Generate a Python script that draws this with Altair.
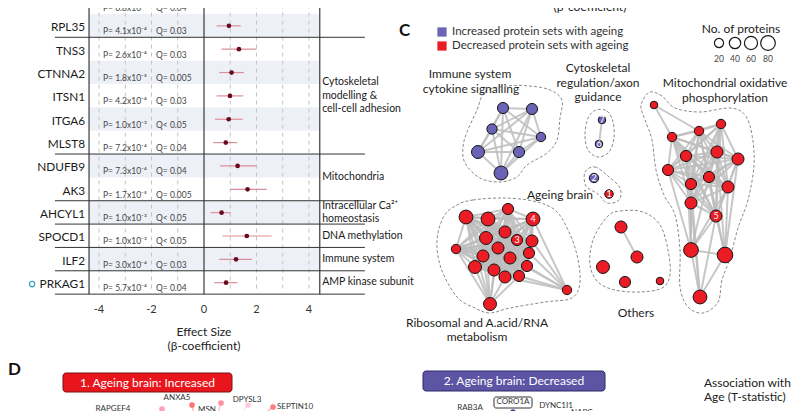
import altair as alt
import pandas as pd
from itertools import combinations

FONT = "Lato"

# ---------------- Panel B: forest plot ----------------
genes = ["RPLP0", "RPL35", "TNS3", "CTNNA2", "ITSN1", "ITGA6", "MLST8",
         "NDUFB9", "AK3", "AHCYL1", "SPOCD1", "ILF2", "PRKAG1"]
beta = [1.08, 0.95, 1.33, 1.05, 0.99, 0.94, 0.83, 1.28, 1.66, 0.67, 1.63, 1.22, 0.84]
ci_low = [0.48, 0.48, 0.67, 0.58, 0.48, 0.42, 0.35, 0.61, 0.99, 0.25, 0.71, 0.58, 0.39]
ci_high = [1.69, 1.40, 2.00, 1.52, 1.50, 1.47, 1.27, 2.00, 2.39, 1.02, 2.58, 1.82, 1.28]
p_text = ["P= 6.8x10⁻⁴", "P= 4.1x10⁻⁴", "P= 2.6x10⁻⁴", "P= 1.8x10⁻⁵", "P= 4.2x10⁻⁴",
          "P= 1.0x10⁻³", "P= 7.2x10⁻⁴", "P= 7.3x10⁻⁴", "P= 1.7x10⁻⁵", "P= 1.0x10⁻³",
          "P= 1.0x10⁻³", "P= 3.0x10⁻⁴", "P= 5.7x10⁻⁴"]
q_text = ["Q= 0.04", "Q= 0.03", "Q= 0.03", "Q= 0.005", "Q= 0.03", "Q< 0.05", "Q= 0.04",
          "Q= 0.04", "Q= 0.005", "Q< 0.05", "Q< 0.05", "Q= 0.03", "Q= 0.04"]
gene_group = ["ribo", "ribo", "cyto", "cyto", "cyto", "cyto", "cyto",
              "mito", "mito", "ca", "dna", "imm", "amp"]
group_keys = ["ribo", "cyto", "mito", "ca", "dna", "imm", "amp"]
group_text = ["Ribosomal\nprotein", "Cytoskeletal\nmodelling &\ncell-cell adhesion",
              "Mitochondria", "Intracellular Ca²⁺\nhomeostasis", "DNA methylation",
              "Immune system", "AMP kinase subunit"]
tick_vals = [-4, -2, 0, 2, 4]
tick_labels = ["-4", "-2", "0", "2", "4"]
grid_vals = [-4, -3, -2, -1, 1, 2, 3, 4]
highlighted_gene = "PRKAG1"

ROW_PX = 23.35          # pixel height of one forest row (used to convert line offsets)
CAT_LH = 13.5           # line height of group labels
FRAME_L, FRAME_R = -4.38, 4.41
SEP_L, SEP_R = -5.68, 6.13
BX = alt.Scale(domain=[-7.467, 22.4], nice=False, zero=False)
BY = alt.Scale(domain=[0.1756, 17.435], nice=False, zero=False, reverse=True)


def fx(f):
    return alt.X(f"{f}:Q", scale=BX, axis=None)


def fy(f):
    return alt.Y(f"{f}:Q", scale=BY, axis=None)


n_g = len(genes)
fdf = pd.DataFrame({"gene": genes, "row": list(range(n_g)), "beta": beta,
                    "lo": ci_low, "hi": ci_high, "p": p_text, "q": q_text,
                    "group": gene_group})
fdf["pt_row"] = fdf["row"] - 0.06
fdf["txt_row"] = fdf["row"] + 0.17
fdf["top"] = fdf["row"] - 0.57
fdf["bot"] = fdf["row"] + 0.43
fdf["fl"] = FRAME_L
fdf["fr"] = FRAME_R
fdf["gx"] = -4.53
fdf["px"] = -3.85
fdf["qx"] = -1.83

shade_df = fdf[fdf["row"] % 2 == 1]
shade = alt.Chart(shade_df).mark_rect(color="#eef0f8").encode(
    x=fx("fl"), x2="fr:Q", y=fy("top"), y2="bot:Q")

grid_df = pd.DataFrame({"x": grid_vals, "y1": -1.0, "y2": 12.25})
grid = alt.Chart(grid_df).mark_rule(color="#c4c4c4", strokeDash=[4, 4], strokeWidth=1).encode(
    x=fx("x"), y=fy("y1"), y2="y2:Q")

frame_df = pd.DataFrame({"x": [FRAME_L, 0.0, FRAME_R], "y1": -1.0, "y2": 12.43})
frame = alt.Chart(frame_df).mark_rule(color="#3a3a3a", strokeWidth=1.2).encode(
    x=fx("x"), y=fy("y1"), y2="y2:Q")

sep_rows = [i + 0.43 for i in range(n_g) if i == n_g - 1 or gene_group[i] != gene_group[i + 1]]
sep_df = pd.DataFrame({"y": sep_rows, "x1": SEP_L, "x2": SEP_R})
seps = alt.Chart(sep_df).mark_rule(color="#333333", strokeWidth=1).encode(
    x=fx("x1"), x2="x2:Q", y=fy("y"))

ci = alt.Chart(fdf).mark_rule(color="#dc8f9a", strokeWidth=1.2).encode(
    x=fx("lo"), x2="hi:Q", y=fy("pt_row"))
pts = alt.Chart(fdf).mark_circle(color="#6a0a1e", size=22, opacity=1).encode(
    x=fx("beta"), y=fy("pt_row"))

gene_txt = alt.Chart(fdf).mark_text(align="right", font=FONT, fontSize=11.8, color="#1a1a1a").encode(
    x=fx("gx"), y=fy("row"), text="gene:N")
p_txt = alt.Chart(fdf).mark_text(align="left", font=FONT, fontSize=8.5, color="#444444").encode(
    x=fx("px"), y=fy("txt_row"), text="p:N")
q_txt = alt.Chart(fdf).mark_text(align="left", font=FONT, fontSize=8.5, color="#444444").encode(
    x=fx("qx"), y=fy("txt_row"), text="q:N")

cat_rows = []
for k, t in zip(group_keys, group_text):
    rr = [i for i, g in enumerate(gene_group) if g == k]
    n_lines = t.count("\n") + 1
    centre = sum(rr) / len(rr) - 0.07
    cat_rows.append(centre - (n_lines - 1) / 2 * CAT_LH / ROW_PX)
cat_rows[0] = -0.62  # ribosomal group continues above the crop
cat_df = pd.DataFrame({"t": group_text, "row": cat_rows, "x": 4.5})
cat_txt = alt.Chart(cat_df).mark_text(align="left", font=FONT, fontSize=10.5, color="#1a1a1a",
                                      lineBreak="\n", lineHeight=CAT_LH).encode(
    x=fx("x"), y=fy("row"), text="t:N")

tick_df = pd.DataFrame({"x": tick_vals, "t": tick_labels, "row": 13.11})
ticks = alt.Chart(tick_df).mark_text(font=FONT, fontSize=11, color="#333333").encode(
    x=fx("x"), y=fy("row"), text="t:N")

title_df = pd.DataFrame({"x": [0.0], "row": [14.05], "t": ["Effect Size\n(β-coefficient)"]})
title = alt.Chart(title_df).mark_text(font=FONT, fontSize=12, color="#222222",
                                      lineBreak="\n", lineHeight=14).encode(
    x=fx("x"), y=fy("row"), text="t:N")

mk_df = pd.DataFrame({"x": [-6.55], "row": [float(genes.index(highlighted_gene))]})
marker = alt.Chart(mk_df).mark_point(shape="circle", filled=False, color="#3a9fc0",
                                     size=28, strokeWidth=1.3, opacity=1).encode(
    x=fx("x"), y=fy("row"))

forest = alt.layer(shade, grid, frame, seps, ci, pts, gene_txt, p_txt, q_txt,
                   cat_txt, ticks, title, marker)

# ---------------- Panel C: network of protein sets ----------------
node_id = ["I0", "I1", "I2", "I3", "I4", "I5", "I6",
           "C7", "C6", "A2", "A1",
           "M0", "M1", "M2", "M3", "M4", "M5", "M6", "M7", "M8", "M9", "M10", "M11",
           "M12", "M13", "M14", "M15",
           "R0", "R1", "R2", "R3", "R4", "R5", "R6", "R7", "R8", "R9", "R10", "R11",
           "R12", "R13", "R14", "R15", "R16", "R17", "R18", "R19",
           "O0", "O1", "O2", "O3", "O4"]
node_x = [503, 532, 492, 541, 478, 519, 501,
          602, 599, 594, 609,
          654, 672, 699, 721, 686, 717, 738, 668, 709, 691, 728, 691,
          716, 691, 725, 700,
          466, 488, 508, 533, 486, 505, 517, 532, 456, 498, 483, 510,
          529, 475, 494, 527, 505, 519, 567, 490,
          621, 637, 603, 625, 660]
node_y = [108, 109, 129, 137, 152, 152, 173,
          120, 144, 178, 194,
          105, 137, 131, 124, 156, 152, 159, 170, 177, 184, 187, 203,
          216, 250, 255, 297,
          217, 219, 209, 219, 238, 232, 240, 241, 249, 248, 256, 258,
          253, 267, 270, 266, 277, 276, 290, 304,
          227, 257, 267, 282, 281]
node_n = [38, 38, 30, 22, 58, 38, 69,
          8, 8, 22, 15,
          8, 22, 22, 22, 38, 48, 48, 38, 38, 38, 48, 48,
          48, 80, 92, 69,
          69, 69, 38, 69, 58, 48, 38, 48, 22, 48, 48, 48,
          38, 58, 48, 38, 48, 38, 22, 58,
          48, 48, 58, 38, 8]
node_dir = (["Increased"] * 10 + ["Decreased"] + ["Decreased"] * 16 +
            ["Decreased"] * 20 + ["Decreased"] * 5)
node_num = {"C7": "7", "C6": "6", "A2": "2", "A1": "1", "R3": "4", "R6": "3", "M12": "5"}

cliques = [["I0", "I1", "I2", "I3", "I4", "I5", "I6"],
           ["M1", "M2", "M3", "M4", "M5", "M6", "M7", "M8", "M9", "M10", "M11", "M12"],
           ["R0", "R1", "R2", "R3", "R4", "R5", "R6", "R7", "R8", "R9", "R10", "R11",
            "R12", "R13", "R14", "R15", "R16", "R17"]]
extra_edges = [("C7", "C6"), ("M0", "M1"), ("M0", "M2"),
               ("M13", "M7"), ("M13", "M9"), ("M13", "M11"), ("M13", "M12"), ("M13", "M4"),
               ("M13", "M8"), ("M13", "M10"), ("M13", "M14"), ("M13", "M15"),
               ("M14", "M12"), ("M14", "M10"), ("M14", "M6"), ("M14", "M5"), ("M14", "M8"),
               ("M14", "M15"), ("M15", "M11"), ("M15", "M12"), ("M15", "M9"),
               ("R18", "R3"), ("R18", "R7"), ("R18", "R12"), ("R18", "R15"), ("R18", "R17"),
               ("R18", "R16"), ("R18", "R11"),
               ("R19", "R13"), ("R19", "R14"), ("R19", "R16"), ("R19", "R10"), ("R19", "R8"),
               ("R19", "R17"), ("R19", "R9"), ("R19", "R4"), ("R19", "R0"),
               ("O0", "O1")]

hull_id = (["imm"] * 16 + ["cyt"] * 9 + ["age"] * 8 + ["rib"] * 17 + ["oth"] * 12 + ["mit"] * 24)
hull_x = [477, 485, 507, 530, 550, 562, 560, 557, 547, 527, 517, 500, 480, 465, 463, 467,
          596, 607, 613, 614, 609, 598, 588, 585, 588,
          585, 595, 608, 620, 619, 607, 598, 586,
          457, 473, 503, 533, 555, 568, 577, 580, 572, 545, 510, 490, 475, 457, 441, 437, 444,
          607, 620, 643, 660, 668, 670, 662, 640, 615, 598, 590, 593,
          643, 650, 662, 675, 700, 730, 745, 752, 754, 748, 738, 730, 722, 718, 703, 688,
          680, 680, 675, 664, 656, 652, 645, 641]
hull_y = [110, 92, 86, 86, 90, 100, 118, 140, 153, 165, 177, 182, 178, 163, 147, 132,
          110, 111, 122, 138, 152, 157, 150, 135, 118,
          172, 167, 176, 188, 200, 203, 194, 186,
          205, 200, 198, 201, 210, 230, 255, 282, 298, 302, 308, 313, 308, 297, 268, 240, 216,
          217, 211, 212, 225, 250, 275, 288, 292, 290, 282, 265, 240,
          100, 92, 96, 108, 112, 108, 115, 135, 165, 200, 228, 258, 280, 302, 313, 307,
          287, 250, 215, 195, 170, 140, 120, 108]

cluster_text = ["Immune system", "cytokine signalling", "Cytoskeletal", "regulation/axon",
                "guidance", "Mitochondrial oxidative", "phosphorylation", "Ageing brain",
                "Ribosomal and A.acid/RNA", "metabolism", "Others"]
cluster_x = [470, 471, 598, 598, 598, 725, 725, 560, 477, 477, 636]
cluster_y = [74, 89, 68, 83, 97, 83, 98, 195, 323, 337, 313]

legend_dir = ["Increased", "Decreased"]
legend_text = ["Increased protein sets with ageing", "Decreased protein sets with ageing"]
legend_y = [32, 46]
size_legend_n = [20, 40, 60, 80]
size_legend_x = [719, 735, 751, 768]

# ---------------- Panel D ----------------
box_text = ["1. Ageing brain: Increased", "2. Ageing brain: Decreased"]
box_x1 = [63, 423]
box_x2 = [232, 605]
box_y1 = [373, 371]
box_y2 = [392, 391]
d_gene = ["RAPGEF4", "SEPTIN4", "ANXA5", "MSN", "DPYSL3", "SEPTIN10", "PRDX6", "WFS1",
          "RAB3A", "CORO1A", "DYNC1I1", "NAPG", "ACTA1"]
d_lab_x = [113, 166, 177, 207, 247, 295, 238, 300, 470, 513, 556, 582, 612]
d_lab_y = [409, 415, 398, 410, 400, 407, 418, 418, 408, 402, 406, 413, 419]
d_node_x = [134, 162, 192, 221, 248, 273, 190, 288, 486, 513, 543, 572, 600]
d_node_y = [416, 409, 405, 403, 405, 407, 418, 419, 414, 412, 414, 418, 424]
d_t = [1.2, 1.5, 2.4, 1.8, 0.7, 2.2, 2.0, 1.0, -0.8, -3.0, -1.0, -0.7, -0.5]
d_hub_x = [205, 205, 205, 205, 205, 205, 205, 205, 525, 525, 525, 525, 525]
d_hub_y = [460] * 13

PX = alt.Scale(domain=[8, 792], nice=False, zero=False)
PY = alt.Scale(domain=[8, 411], nice=False, zero=False, reverse=True)
FILL = alt.Scale(domain=["Increased", "Decreased"], range=["#6a63b6", "#ec1c24"])
SIZE = alt.Scale(domain=[0, 100], range=[40, 260])
TCOL = alt.Scale(domain=[-3, 0, 3], range=["#4b3f9c", "#f4eef2", "#ee5a3a"])


def px(f):
    return alt.X(f"{f}:Q", scale=PX, axis=None)


def py(f):
    return alt.Y(f"{f}:Q", scale=PY, axis=None)


ndf = pd.DataFrame({"id": node_id, "x": node_x, "y": node_y, "n": node_n, "dir": node_dir})
ndf["num"] = [node_num.get(i, "") for i in node_id]
pos = {i: (x, y) for i, x, y in zip(node_id, node_x, node_y)}

edge_pairs = []
for cl in cliques:
    edge_pairs += list(combinations(cl, 2))
edge_pairs += extra_edges
edf = pd.DataFrame({"x": [pos[a][0] for a, b in edge_pairs], "y": [pos[a][1] for a, b in edge_pairs],
                    "x2": [pos[b][0] for a, b in edge_pairs], "y2": [pos[b][1] for a, b in edge_pairs]})

hdf = pd.DataFrame({"hull": hull_id, "x": hull_x, "y": hull_y})
hdf["i"] = hdf.groupby("hull").cumcount()

hulls = alt.Chart(hdf).mark_line(interpolate="cardinal-closed", strokeDash=[3, 2],
                                 color="#8a8a8a", strokeWidth=1).encode(
    x=px("x"), y=py("y"), detail="hull:N", order="i:Q")
edges = alt.Chart(edf).mark_rule(color="#bdbdbd", strokeWidth=2, opacity=0.85).encode(
    x=px("x"), y=py("y"), x2="x2:Q", y2="y2:Q")
nodes = alt.Chart(ndf).mark_point(shape="circle", filled=True, opacity=1, stroke="#141414",
                                  strokeWidth=1).encode(
    x=px("x"), y=py("y"),
    fill=alt.Fill("dir:N", scale=FILL, legend=None),
    size=alt.Size("n:Q", scale=SIZE, legend=None))
nums = alt.Chart(ndf[ndf["num"] != ""]).mark_text(font=FONT, fontSize=9, color="white").encode(
    x=px("x"), y=py("y"), text="num:N")

cdf = pd.DataFrame({"t": cluster_text, "x": cluster_x, "y": cluster_y})
clus = alt.Chart(cdf).mark_text(font=FONT, fontSize=12, color="#1e1e1e").encode(
    x=px("x"), y=py("y"), text="t:N")

ldf = pd.DataFrame({"dir": legend_dir, "t": legend_text, "y": legend_y, "x": 442, "tx": 452})
leg_sq = alt.Chart(ldf).mark_square(size=85, opacity=1).encode(
    x=px("x"), y=py("y"), fill=alt.Fill("dir:N", scale=FILL, legend=None))
leg_tx = alt.Chart(ldf).mark_text(align="left", font=FONT, fontSize=11.5, color="#333333").encode(
    x=px("tx"), y=py("y"), text="t:N")

sdf = pd.DataFrame({"n": size_legend_n, "x": size_legend_x, "y": 43, "ly": 59})
sdf["lab"] = sdf["n"].astype(str)
size_c = alt.Chart(sdf).mark_point(shape="circle", filled=True, fill="white", stroke="#1a1a1a",
                                   strokeWidth=1.2, opacity=1).encode(
    x=px("x"), y=py("y"), size=alt.Size("n:Q", scale=SIZE, legend=None))
size_l = alt.Chart(sdf).mark_text(font=FONT, fontSize=8.5, color="#444444").encode(
    x=px("x"), y=py("ly"), text="lab:N")

misc_df = pd.DataFrame({"t": ["No. of proteins", "(β-coefficient)"], "x": [741, 590], "y": [29, 7]})
misc = alt.Chart(misc_df).mark_text(font=FONT, fontSize=12, color="#222222").encode(
    x=px("x"), y=py("y"), text="t:N")

letters_df = pd.DataFrame({"t": ["C", "D"], "x": [399, 8], "y": [31, 370]})
letters = alt.Chart(letters_df).mark_text(align="left", font=FONT, fontSize=17,
                                          fontWeight="bold", color="#111111").encode(
    x=px("x"), y=py("y"), text="t:N")

# panel D marks
ddf = pd.DataFrame({"g": d_gene, "lx": d_lab_x, "ly": d_lab_y, "x": d_node_x, "y": d_node_y,
                    "t": d_t, "hx": d_hub_x, "hy": d_hub_y})
d_edges = alt.Chart(ddf).mark_rule(strokeWidth=1.2, opacity=0.6).encode(
    x=px("x"), y=py("y"), x2="hx:Q", y2="hy:Q",
    color=alt.Color("t:Q", scale=TCOL, legend=None))
d_nodes = alt.Chart(ddf).mark_circle(size=32, opacity=1).encode(
    x=px("x"), y=py("y"), color=alt.Color("t:Q", scale=TCOL, legend=None))
d_labels = alt.Chart(ddf).mark_text(font=FONT, fontSize=8, color="#333333").encode(
    x=px("lx"), y=py("ly"), text="g:N")

bdf = pd.DataFrame({"t": box_text, "x1": box_x1, "x2": box_x2, "y1": box_y1, "y2": box_y2})
bdf["cx"] = (bdf["x1"] + bdf["x2"]) / 2
bdf["cy"] = (bdf["y1"] + bdf["y2"]) / 2
box_inc = alt.Chart(bdf.iloc[[0]]).mark_rect(fill="#e8161c", stroke="#7a1212", strokeWidth=1,
                                             cornerRadius=3).encode(
    x=px("x1"), x2="x2:Q", y=py("y1"), y2="y2:Q")
box_dec = alt.Chart(bdf.iloc[[1]]).mark_rect(fill="#5d54a4", stroke="#2e2868", strokeWidth=1,
                                             cornerRadius=3).encode(
    x=px("x1"), x2="x2:Q", y=py("y1"), y2="y2:Q")
box_tx = alt.Chart(bdf).mark_text(font=FONT, fontSize=12, color="white").encode(
    x=px("cx"), y=py("cy"), text="t:N")

coro_df = pd.DataFrame({"x1": [494], "x2": [532], "y1": [397], "y2": [408]})
coro_box = alt.Chart(coro_df).mark_rect(fill="white", stroke="#333333", strokeWidth=1,
                                        cornerRadius=2).encode(
    x=px("x1"), x2="x2:Q", y=py("y1"), y2="y2:Q")

dleg_df = pd.DataFrame({"t": ["Association with\nAge (T-statistic)"], "x": [704], "y": [383]})
dleg = alt.Chart(dleg_df).mark_text(align="left", font=FONT, fontSize=12, color="#222222",
                                    lineBreak="\n", lineHeight=14).encode(
    x=px("x"), y=py("y"), text="t:N")
bar_df = pd.DataFrame({"x1": [716], "x2": [724], "y1": [411], "y2": [425], "t": ["2.5"],
                       "tx": [729], "ty": [418]})
dbar = alt.Chart(bar_df).mark_rect(color="#f5876d").encode(
    x=px("x1"), x2="x2:Q", y=py("y1"), y2="y2:Q")
dbar_t = alt.Chart(bar_df).mark_text(align="left", font=FONT, fontSize=8, color="#333333").encode(
    x=px("tx"), y=py("ty"), text="t:N")

net = alt.layer(hulls, edges, nodes, nums, clus, leg_sq, leg_tx, size_c, size_l, misc, letters,
                d_edges, d_nodes, box_inc, box_dec, box_tx, coro_box, d_labels, dleg, dbar, dbar_t)

chart = alt.layer(forest, net).resolve_scale(
    x="independent", y="independent"
).properties(
    width=784, height=403, padding=0,
    autosize=alt.AutoSizeParams(type="none"),
    background="white"
).configure_view(stroke=None)

chart.save("out.html", embed_options={"renderer": "svg", "actions": False})
